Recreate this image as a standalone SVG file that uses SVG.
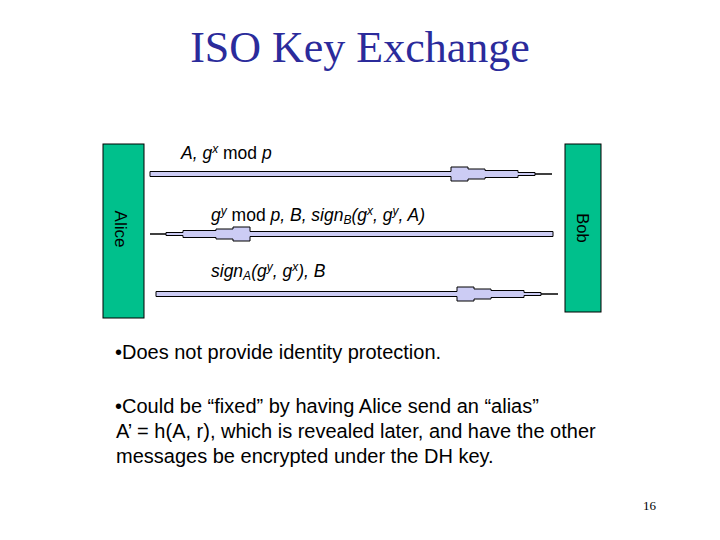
<svg xmlns="http://www.w3.org/2000/svg" width="720" height="540" viewBox="0 0 720 540">
<style>
.title{font-family:"Liberation Serif","Times New Roman",serif;font-size:44px;fill:#2b2b9b}
.lbl{font-family:"Liberation Sans",Arial,sans-serif;font-size:17.5px;fill:#000}
.nm{font-family:"Liberation Sans",Arial,sans-serif;font-size:17px;fill:#000}
.it{font-style:italic}
.body{font-family:"Liberation Sans",Arial,sans-serif;font-size:20px;fill:#000}
.box{fill:#00c08c;stroke:#000;stroke-width:1}
.arr{fill:#ccccf4;stroke:#000;stroke-width:1}
.ln{stroke:#000;stroke-width:1.5}
.sup{font-size:12px}
.pg{font-family:"Liberation Serif","Times New Roman",serif;font-size:13px;fill:#000}
</style>
<rect width="720" height="540" fill="#fff"/>
<text class="title" x="360" y="62" text-anchor="middle">ISO Key Exchange</text>
<g id="alice">
<rect class="box" x="103" y="144" width="41" height="174"/>
<text class="nm" x="229" y="-115" text-anchor="middle" transform="rotate(90)">Alice</text>
</g>
<g id="bob">
<rect class="box" x="565" y="144" width="36" height="168"/>
<text class="nm" x="228" y="-577" text-anchor="middle" transform="rotate(90)" style="font-size:16.5px">Bob</text>
</g>
<g id="connectors">
<g id="m1">
<line class="ln" x1="534" y1="174" x2="552" y2="174"/>
<polygon class="arr" points="150,171.5 451,171.5 451,167 468,167 468,169 485,169 485,170.5 518,170.5 518,172.5 535,172.5 535,175.5 518,175.5 518,177.5 485,177.5 485,179 468,179 468,181 451,181 451,176.5 150,176.5"/>
</g>
<g id="m2">
<line class="ln" x1="150" y1="234" x2="168" y2="234"/>
<polygon class="arr" points="553,231.5 250,231.5 250,227 233,227 233,229 216,229 216,230.5 183,230.5 183,232.5 166,232.5 166,235.5 183,235.5 183,237.5 216,237.5 216,239 233,239 233,241 250,241 250,236.5 553,236.5"/>
</g>
<g id="m3">
<line class="ln" x1="540" y1="294" x2="558" y2="294"/>
<polygon class="arr" points="156,291.5 457,291.5 457,287 474,287 474,289 491,289 491,290.5 524,290.5 524,292.5 541,292.5 541,295.5 524,295.5 524,297.5 491,297.5 491,299 474,299 474,301 457,301 457,296.5 156,296.5"/>
</g>
</g>
<text class="lbl" x="181" y="159"><tspan class="it">A, g</tspan><tspan class="it sup" dy="-6">x</tspan><tspan dy="6"> mod </tspan><tspan class="it">p</tspan></text>
<text class="lbl" x="211" y="221"><tspan class="it">g</tspan><tspan class="it sup" dy="-6">y</tspan><tspan dy="6"> mod </tspan><tspan class="it">p, B, sign</tspan><tspan class="it sup" dy="3">B</tspan><tspan class="it" dy="-3">(g</tspan><tspan class="it sup" dy="-6">x</tspan><tspan class="it" dy="6">, g</tspan><tspan class="it sup" dy="-6">y</tspan><tspan class="it" dy="6">, A)</tspan></text>
<text class="lbl" x="211" y="277"><tspan class="it">sign</tspan><tspan class="it sup" dy="3">A</tspan><tspan class="it" dy="-3">(g</tspan><tspan class="it sup" dy="-6">y</tspan><tspan class="it" dy="6">, g</tspan><tspan class="it sup" dy="-6">x</tspan><tspan class="it" dy="6">), B</tspan></text>
<text class="body" x="115" y="359">•Does not provide identity protection.</text>
<text class="body" x="115" y="413">•Could be “fixed” by having Alice send an “alias”</text>
<text class="body" x="116" y="438">A’ = h(A, r), which is revealed later, and have the other</text>
<text class="body" x="116" y="463">messages be encrypted under the DH key.</text>
<text class="pg" x="643" y="510">16</text>
</svg>
